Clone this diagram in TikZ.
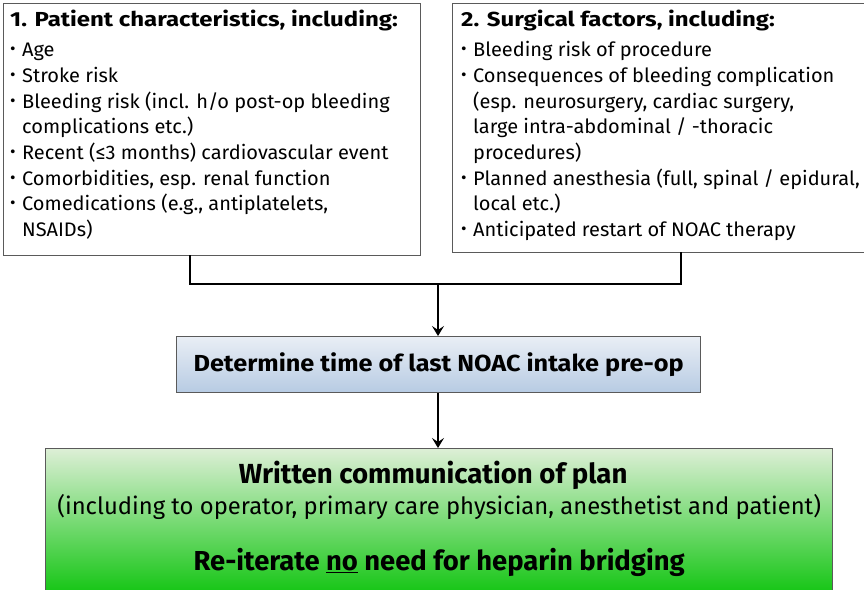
\documentclass[tikz,border=0pt]{standalone}
\usepackage{fontspec}
\setmainfont{Fira Sans}
\newfontfamily\listfont{Fira Sans}[FakeStretch=1.02]
\newfontfamily\headfont{Fira Sans}[FakeStretch=1.18]
\newfontfamily\midfont{Fira Sans}[FakeStretch=1.09]
\usetikzlibrary{arrows.meta,calc}
\definecolor{edgegray}{HTML}{5A5A5A}
\definecolor{blueTop}{HTML}{E9EEF5}
\definecolor{blueBot}{HTML}{B7CBE3}
\definecolor{greenTop}{HTML}{DDEFD6}
\definecolor{greenBot}{HTML}{0DC40D}
\newcommand{\bul}{\raisebox{0.1em}{\scalebox{0.85}{\textbullet}}\hspace{0.33em}}
\newcommand{\cont}{\hphantom{\bul}}
\newcommand{\headline}[1]{{\headfont\bfseries\fontsize{20.3}{25.7}\selectfont #1}\\[4.3pt]}
\begin{document}
\begin{tikzpicture}[x=1pt,y=-1pt,
  factorbox/.style={draw=edgegray,line width=1.3pt,fill=white,anchor=north west,inner sep=0pt},
  listtext/.style={anchor=north west,align=left,inner sep=0pt,font=\listfont\fontsize{19.6}{25.7}\selectfont},
  conn/.style={line width=2.8pt,black},
  flow/.style={line width=2.2pt,black,-{Stealth[length=10pt,width=12pt,inset=4pt]}},
  plantxt/.style={anchor=base,inner sep=0pt},
]
\clip (0,0) rectangle (864,589);
\fill[white] (0,0) rectangle (864,589);

% patient characteristics
\node[factorbox,minimum width=417,minimum height=252] (pat) at (3,3) {};
\node[listtext] (pattext) at (10,10) {%
  \headline{1. Patient characteristics, including:}
  \bul Age\\
  \bul Stroke risk\\
  \bul Bleeding risk (incl. h/o post-op bleeding\\
  \cont complications etc.)\\
  \bul Recent (≤3 months) cardiovascular event\\
  \bul Comorbidities, esp. renal function\\
  \bul Comedications (e.g., antiplatelets,\\
  \cont NSAIDs)};

% surgical factors
\node[factorbox,minimum width=412,minimum height=249] (sur) at (452,3) {};
\node[listtext] (surtext) at (461,10) {%
  \headline{2. Surgical factors, including:}
  \bul Bleeding risk of procedure\\
  \bul Consequences of bleeding complication\\
  \cont (esp. neurosurgery, cardiac surgery,\\
  \cont large intra-abdominal / -thoracic\\
  \cont procedures)\\
  \bul Planned anesthesia (full, spinal / epidural,\\
  \cont local etc.)\\
  \bul Anticipated restart of NOAC therapy};

% determine time node
\node[draw=edgegray,line width=1.3pt,top color=blueTop,bottom color=blueBot,
      minimum width=524,minimum height=56,anchor=north west,inner sep=0pt,
      font=\midfont\bfseries\fontsize{23.2}{26}\selectfont] (det) at (176,336)
  {Determine time of last NOAC intake pre-op};

% written communication node
\node[draw=edgegray,line width=1.3pt,top color=greenTop,bottom color=greenBot,
      minimum width=787,minimum height=150,anchor=north west,inner sep=0pt] (plan) at (45,448) {};
\node[plantxt,font=\bfseries\fontsize{27.6}{30}\selectfont] (plantitle) at ([xshift=-6pt]plan.center |- 0,483)
  {Written communication of plan};
\node[plantxt,font=\fontsize{23.8}{26}\selectfont] (plansub) at (plan.center |- 0,514)
  {(including to operator, primary care physician, anesthetist and patient)};
\node[plantxt,font=\bfseries\fontsize{27.4}{30}\selectfont] (planbridge) at (plan.center |- 0,570)
  {Re-iterate \underline{no} need for heparin bridging};

% connectors
\coordinate (jl) at (190,284);
\coordinate (jr) at (681,284);
\coordinate (jm) at (438,284);
\draw[conn,line cap=rect] (pat.south -| jl) -- (jl) -- (jr) -- (sur.south -| jr);
\draw[flow] (jm) -- (det.north -| jm);
\draw[flow] (det.south -| jm) -- (plan.north -| jm);
\end{tikzpicture}
\end{document}
